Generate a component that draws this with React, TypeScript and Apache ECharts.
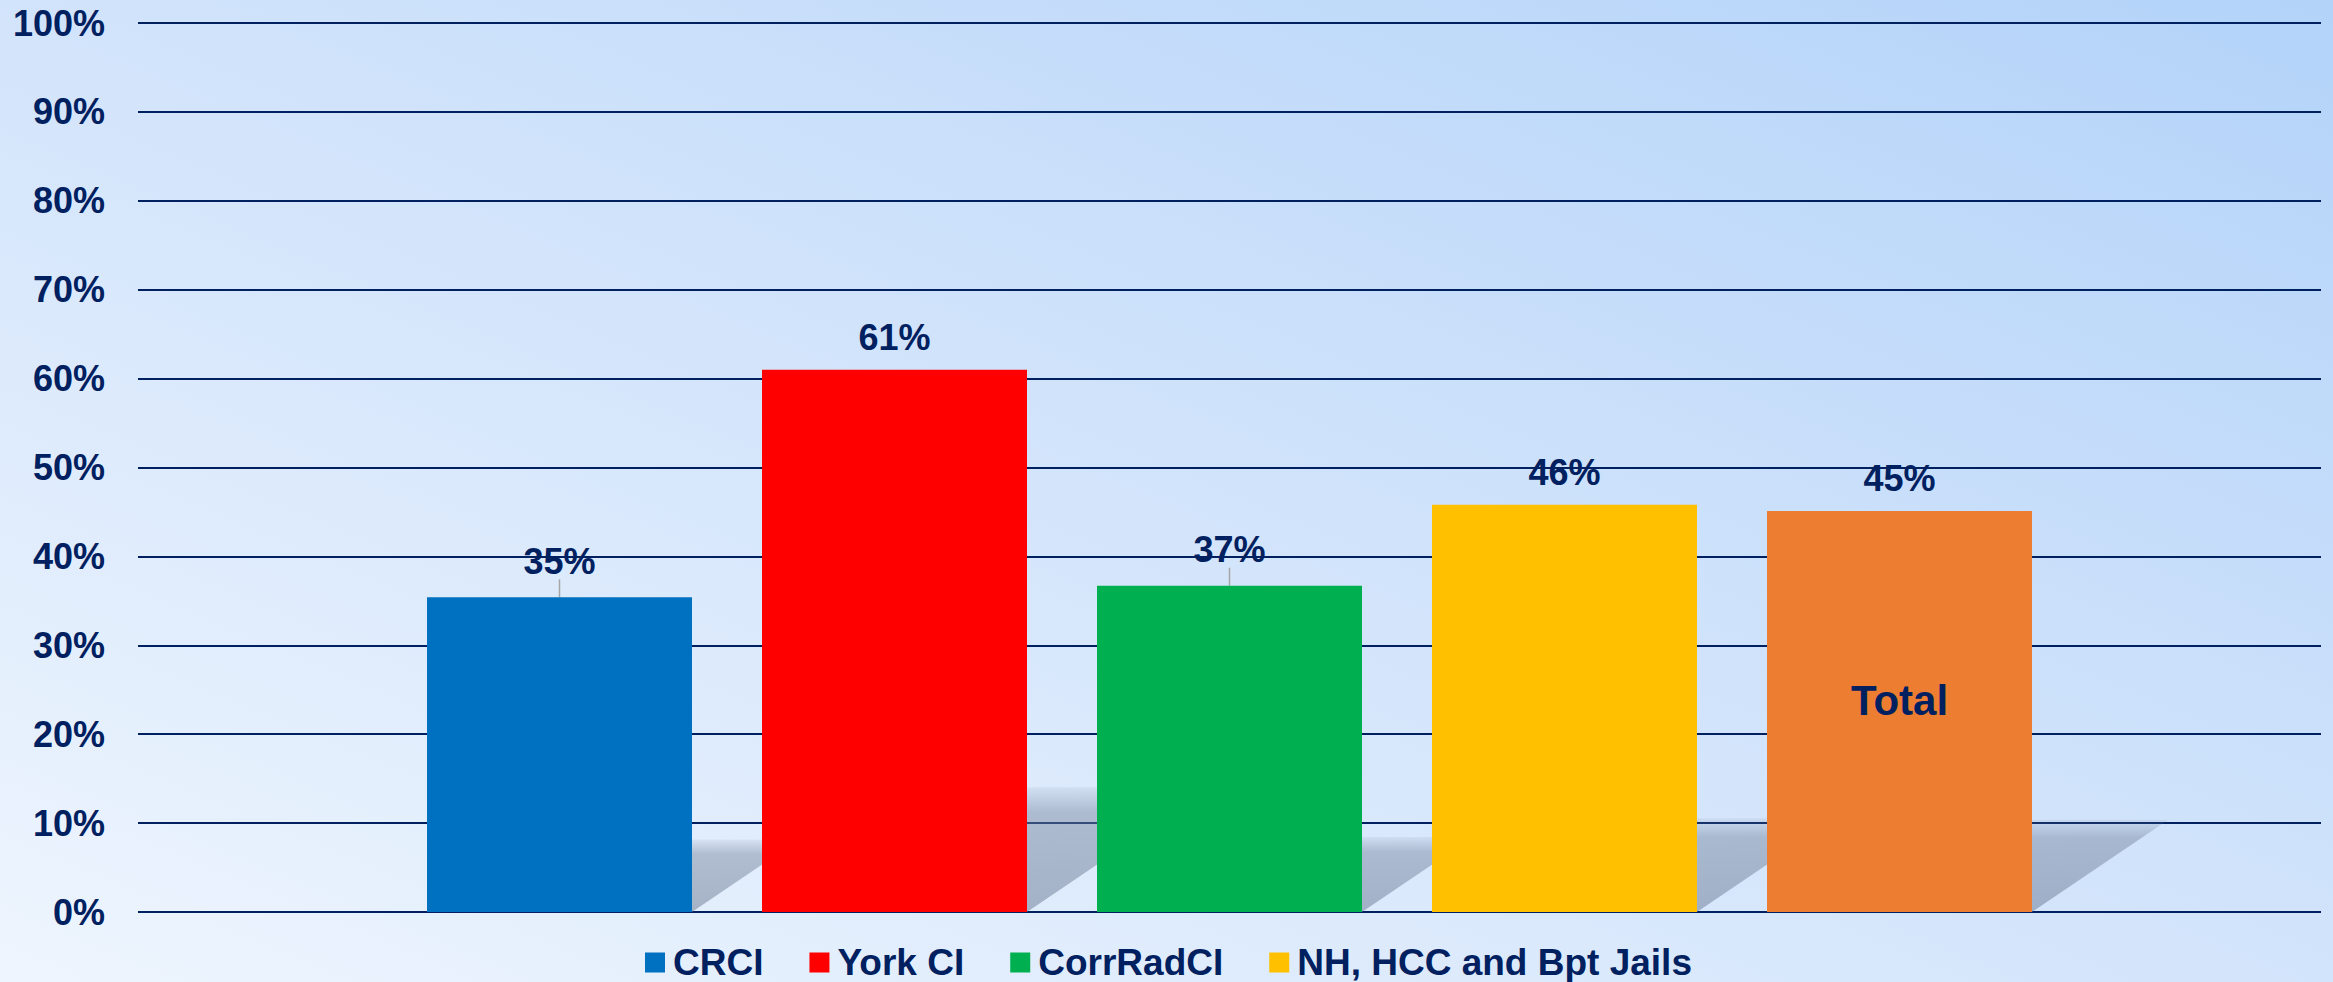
import React, { useEffect, useRef } from "react";
import * as echarts from "echarts";

const seriesNames = ["CRCI", "York CI", "CorrRadCI", "NH, HCC and Bpt Jails", "Total"];
const seriesValues = [0.354, 0.61, 0.367, 0.458, 0.451];
const seriesColors = ["#0070C0", "#FF0000", "#00B050", "#FFC000", "#ED7D31"];
const yTicks = [0, 0.1, 0.2, 0.3, 0.4, 0.5, 0.6, 0.7, 0.8, 0.9, 1.0];
const legendNames = ["CRCI", "York CI", "CorrRadCI", "NH, HCC and Bpt Jails"];

const NAVY = "#002060";
const FONT = "'Liberation Sans', Arial, Helvetica, sans-serif";
const BW = 265;
const GAP = 70;

export default function App() {
  const ref = useRef<HTMLDivElement>(null);
  useEffect(() => {
    if (!ref.current) return;
    const chart = echarts.init(ref.current, undefined, { renderer: "svg" });
    const N = seriesValues.length;

    const bars = seriesValues.map((v, i) => {
      const isTotal = seriesNames[i] === "Total";
      const leader = i === 0 || i === 2;
      const s: any = {
        name: seriesNames[i],
        type: "bar",
        data: [v],
        barWidth: BW,
        barGap: (GAP / BW) * 100 + "%",
        itemStyle: { color: seriesColors[i] },
        z: 3,
        label: isTotal
          ? {
              show: true,
              position: "insideTop",
              offset: [0, -60],
              formatter: () => "{v|" + Math.round(v * 100) + "%}\n{s| }\n{t|Total}",
              rich: {
                v: { fontSize: 36, fontWeight: "bold", color: NAVY, fontFamily: FONT, lineHeight: 44, align: "center" },
                s: { fontSize: 10, lineHeight: 175 },
                t: { fontSize: 42, fontWeight: "bold", color: NAVY, fontFamily: FONT, lineHeight: 50, align: "center" },
              },
            }
          : {
              show: true,
              position: "top",
              distance: leader ? 6 : 14,
              formatter: () => Math.round(v * 100) + "%",
              fontSize: 36,
              fontWeight: "bold",
              color: NAVY,
              fontFamily: FONT,
            },
      };
      if (leader) {
        s.labelLayout = { dy: -12 };
        s.labelLine = { show: true, lineStyle: { color: "#a6a6a6", width: 1.5 } };
      }
      return s;
    });

    const shadow = {
      name: "shadow",
      type: "custom",
      z: 2,
      silent: true,
      data: seriesValues.map((v, i) => [0, v, i]),
      encode: { x: 0, y: 1 },
      renderItem: (params: any, api: any) => {
        const v = api.value(1);
        const idx = api.value(2);
        const base = api.coord([0, 0]);
        const top = api.coord([0, v]);
        const h = base[1] - top[1];
        const total = N * BW + (N - 1) * GAP;
        const left = base[0] - total / 2 + idx * (BW + GAP);
        const sh = 0.23 * h;
        const shift = 0.34 * h;
        return {
          type: "polygon",
          shape: {
            points: [
              [left, base[1]],
              [left + BW, base[1]],
              [left + BW + shift, base[1] - sh],
              [left + shift, base[1] - sh],
            ],
          },
          style: {
            fill: {
              type: "linear",
              x: 0,
              y: 0,
              x2: 0,
              y2: 1,
              colorStops: [
                { offset: 0, color: "rgba(115,130,155,0.1)" },
                { offset: 0.2, color: "rgba(115,130,155,0.45)" },
                { offset: 1, color: "rgba(115,130,155,0.55)" },
              ],
            },
          },
        };
      },
    };

    chart.setOption({
      animation: false,
      backgroundColor: new echarts.graphic.LinearGradient(0, 1, 1, 0, [
        { offset: 0, color: "#eef5fe" },
        { offset: 0.5, color: "#d2e4fb" },
        { offset: 1, color: "#b3d3f9" },
      ]),
      grid: { left: 138, right: 12, top: 23, bottom: 70, containLabel: false },
      legend: {
        data: legendNames,
        left: 640,
        top: 939,
        itemWidth: 20,
        itemHeight: 20,
        itemGap: 46,
        icon: "rect",
        textStyle: { fontSize: 37, fontWeight: "bold", color: NAVY, fontFamily: FONT, padding: [0, 0, 0, 3] },
      },
      xAxis: {
        type: "category",
        data: [""],
        axisLine: { show: false },
        axisTick: { show: false },
        axisLabel: { show: false },
      },
      yAxis: {
        type: "value",
        min: yTicks[0],
        max: yTicks[yTicks.length - 1],
        interval: 0.1,
        axisLine: { show: false },
        axisTick: { show: false },
        splitLine: { show: true, lineStyle: { color: NAVY, width: 2 } },
        axisLabel: {
          margin: 33,
          formatter: (val: number) => Math.round(val * 100) + "%",
          fontSize: 36,
          fontWeight: "bold",
          color: NAVY,
          fontFamily: FONT,
        },
      },
      series: [shadow, ...bars],
    });
    return () => chart.dispose();
  }, []);
  return <div ref={ref} style={{ position: "fixed", left: 0, top: 0, width: "2333px", height: "982px" }} />;
}
